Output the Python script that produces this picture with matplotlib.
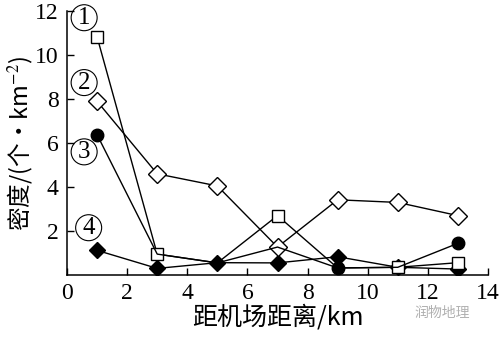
import matplotlib
matplotlib.use("Agg")
import matplotlib.pyplot as plt

# Distance from airport (km)
distance = [1, 3, 5, 7, 9, 11, 13]

# Density (per km^2) for the four series
s1 = [10.83, 0.95, 0.55, 2.70, 0.32, 0.35, 0.56]   # open squares
s2 = [7.90, 4.60, 4.05, 1.27, 3.42, 3.30, 2.70]    # open diamonds
s3 = [6.38, 0.95, 0.55, 1.27, 0.32, 0.35, 1.44]    # filled circles
s4 = [1.12, 0.30, 0.56, 0.55, 0.83, 0.35, 0.27]    # filled diamonds

series_labels = ["1", "2", "3", "4"]
label_pos = [(0.57, 11.7), (0.57, 8.75), (0.57, 5.6), (0.72, 2.15)]

x_ticks = [0, 2, 4, 6, 8, 10, 12, 14]
y_ticks = [2, 4, 6, 8, 10, 12]

plt.rcParams["font.family"] = ["Liberation Serif", "DejaVu Serif"]
plt.rcParams["mathtext.fontset"] = "stix"

fig = plt.figure(figsize=(5.0, 3.37), dpi=100)
ax = fig.add_axes([0.134, 0.184, 0.842, 0.783])

ax.plot(distance, s4, color="black", linewidth=1.0, marker="D",
        markersize=8, markerfacecolor="black", markeredgecolor="black", zorder=3)
ax.plot(distance, s2, color="black", linewidth=1.0, marker="D",
        markersize=9.5, markerfacecolor="white", markeredgecolor="black", zorder=4)
# where markers coincide, the original shows only one of them
ax.plot(distance, s1, color="black", linewidth=1.0, marker="s",
        markersize=8, markerfacecolor="white", markeredgecolor="black",
        markevery=[0, 1, 3, 5, 6], zorder=5)
ax.plot(distance, s3, color="black", linewidth=1.0, marker="o",
        markersize=9, markerfacecolor="black", markeredgecolor="black",
        markevery=[0, 4, 6], zorder=6)

for lab, (lx, ly) in zip(series_labels, label_pos):
    ax.text(lx, ly, lab, fontsize=18, ha="center", va="center",
            bbox=dict(boxstyle="circle,pad=0.08", facecolor="none",
                      edgecolor="black", linewidth=0.8), zorder=7)

ax.set_xlim(0, 14)
ax.set_ylim(0, 12)
ax.set_xticks(x_ticks)
ax.set_yticks(y_ticks)
ax.tick_params(direction="in", length=5, width=1, labelsize=17, pad=6)
ax.spines["top"].set_visible(False)
ax.spines["right"].set_visible(False)
ax.spines["left"].set_linewidth(1.1)
ax.spines["bottom"].set_linewidth(1.1)

ax.set_xlabel("距机场距离/km", fontsize=18,
              family=["Noto Sans CJK SC", "DejaVu Sans"], labelpad=0)
ax.set_ylabel("密度/(个·km$^{-2}$)", fontsize=17,
              family=["Noto Sans CJK SC", "DejaVu Sans"], labelpad=0)

fig.text(0.885, 0.07, "润物地理", fontsize=10, color="#b0b0b0",
         ha="center", va="center", family=["Noto Sans CJK SC", "DejaVu Sans"])

fig.savefig("out.png", dpi=100)
